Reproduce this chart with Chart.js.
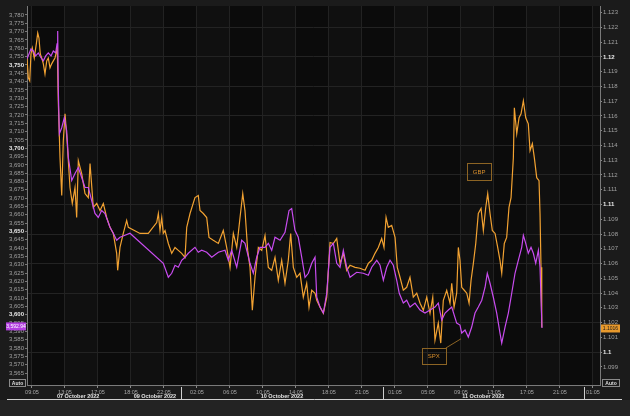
<!DOCTYPE html>
<html>
<head>
<meta charset="utf-8">
<script src="https://cdn.jsdelivr.net/npm/chart.js@4.4.1/dist/chart.umd.min.js"></script>
<style>
  html, body { margin: 0; padding: 0; background: #1b1b1b; }
  canvas { display: block; }
</style>
</head>
<body>
<canvas id="chart" width="630" height="416"></canvas>
<script>
// x = trading hours from the left edge (weekend gap squeezed out, like the terminal chart)
const gbpHours = [
  0, 0.16, 0.33, 0.48, 0.64, 0.88, 1.13, 1.30, 1.45, 1.61, 1.78, 1.98, 2.18, 2.39, 2.58, 2.79, 2.99, 3.19, 3.39, 3.60, 3.67,
  3.79, 4.0, 4.21, 4.40, 4.61, 4.88, 5.21, 5.49, 5.82, 6.02,
  6.22, 6.63, 7.03, 7.43, 7.64, 8.04, 8.45, 8.85, 9.25, 9.66,
  10.06, 10.46, 10.87, 10.99, 11.27, 11.67, 12.08, 12.28, 13.70, 14.70,
  15.72, 15.92, 16.12, 16.33, 16.52, 16.73, 17.13, 17.54, 17.94, 18.34,
  18.75, 19.15, 19.36, 19.76, 20.36, 20.76, 20.97, 21.37, 21.78, 22.06,
  22.58, 23.19, 23.79, 24.20, 24.61, 25.01, 25.42, 25.82, 26.15, 26.42,
  26.75, 27.03, 27.31, 27.64, 28.04, 28.45, 28.85, 29.25, 29.66, 30.06,
  30.46, 30.87, 31.27, 31.67, 31.96, 32.28, 32.69, 33.09, 33.49, 33.90,
  34.18, 34.51, 34.91, 35.12, 35.52, 35.92, 36.33, 36.73, 37.13, 37.54,
  37.94, 38.34, 38.75, 39.15, 39.76, 40.36, 40.97, 41.37, 41.78, 42.18,
  42.58, 42.99, 43.27, 43.52, 43.79, 44.20, 44.61, 44.88, 45.21, 45.61,
  46.02, 46.42, 46.82, 47.24, 47.64, 48.04, 48.45, 48.85, 49.18, 49.45,
  49.85, 50.15, 50.46, 50.87, 51.27, 51.48, 51.76, 52.08, 52.28, 52.48,
  52.69, 53.0, 53.30, 53.58, 53.82, 54.10, 54.39, 54.70, 55.03, 55.31,
  55.60, 55.84, 56.12, 56.40, 56.73, 57.05, 57.33, 57.54, 57.85, 58.14,
  58.42, 58.67, 58.95, 59.07, 59.36, 59.64, 59.88, 60.16, 60.45, 60.76,
  60.97, 61.25, 61.49, 61.78, 62.06, 62.18, 62.30, 62.39
];
const gbpValues = [
  1.11993, 1.11858, 1.11838, 1.12020, 1.12061, 1.11993, 1.12088, 1.12162, 1.12128, 1.12020, 1.11993, 1.11953, 1.11885, 1.11973, 1.11993, 1.11926, 1.11953, 1.11973, 1.11993, 1.12041, 1.12061,
  1.11703, 1.11318, 1.11061, 1.11432, 1.11615, 1.11412, 1.11115, 1.11007, 1.11115, 1.10912,
  1.11297, 1.11209, 1.11074, 1.11047, 1.11277, 1.10980, 1.11007, 1.10959, 1.11007, 1.10912,
  1.10845, 1.10804, 1.10669, 1.10554, 1.10709, 1.10804, 1.10892, 1.10845, 1.10804, 1.10804,
  1.10878, 1.10939, 1.10824, 1.10912, 1.10804, 1.10824, 1.10736, 1.10669, 1.10709, 1.10689,
  1.10669, 1.10642, 1.10845, 1.10939, 1.11047, 1.11061, 1.10959, 1.10939, 1.10912, 1.10777,
  1.10757, 1.10736, 1.10824, 1.10709, 1.10574, 1.10804, 1.10709, 1.10912, 1.11074, 1.10959,
  1.10689, 1.10574, 1.10284, 1.10507, 1.10709, 1.10689, 1.10790, 1.10574, 1.10554, 1.10642,
  1.10486, 1.10622, 1.10466, 1.10622, 1.10804, 1.10574, 1.10507, 1.10534, 1.10372, 1.10466,
  1.10304, 1.10419, 1.10399, 1.10351, 1.10304, 1.10263, 1.10372, 1.10743, 1.10736, 1.10770,
  1.10601, 1.10669, 1.10554, 1.10588, 1.10574, 1.10568, 1.10554, 1.10601, 1.10622, 1.10669,
  1.10709, 1.10770, 1.10709, 1.10912, 1.10845, 1.10858, 1.10777, 1.10574, 1.10507, 1.10419,
  1.10439, 1.10507, 1.10372, 1.10399, 1.10331, 1.10284, 1.10372, 1.10263, 1.10372, 1.10081,
  1.10196, 1.10061, 1.10351, 1.10419, 1.10331, 1.10466, 1.10304, 1.10399, 1.10709, 1.10622,
  1.10439, 1.10419, 1.10399, 1.10331, 1.10486, 1.10601, 1.10736, 1.10939, 1.10973, 1.10824,
  1.10980, 1.11074, 1.10939, 1.10824, 1.10804, 1.10709, 1.10622, 1.10534, 1.10736, 1.10777,
  1.10980, 1.11047, 1.11318, 1.11655, 1.11480, 1.11588, 1.11615, 1.11703, 1.11588, 1.11547,
  1.11365, 1.11412, 1.11318, 1.11182, 1.11162, 1.10939, 1.10574, 1.10169
];

const spxHours = [
  0, 0.24, 0.48, 0.76, 1.05, 1.37, 1.70, 1.98, 2.27, 2.58, 2.91, 3.19, 3.48, 3.64, 3.72,
  3.79, 3.92, 4.21, 4.52, 4.81, 5.01, 5.42, 5.82, 6.22, 6.63,
  7.03, 7.43, 7.84, 8.24, 8.64, 9.05, 9.45, 10.06, 10.46, 10.87,
  11.27, 11.88, 12.48, 16.52, 17.13, 17.54, 17.94, 18.34, 18.75, 19.15,
  19.55, 20.36, 20.76, 21.17, 21.78, 22.39, 23.19, 24.0, 24.40, 24.81,
  25.42, 26.02, 26.42, 27.03, 27.43, 27.84, 28.24, 28.85, 29.25, 29.66,
  30.06, 30.67, 31.27, 31.76, 32.08, 32.48, 32.88, 33.30, 33.70, 34.10,
  34.51, 34.91, 35.12, 35.52, 35.92, 36.33, 36.73, 37.13, 37.54, 37.94,
  38.34, 38.75, 39.15, 39.96, 40.76, 41.37, 41.78, 42.39, 42.79, 43.19,
  43.60, 44.0, 44.40, 44.81, 45.12, 45.61, 46.02, 46.42, 47.03, 47.64,
  48.24, 48.85, 49.45, 49.85, 50.27, 50.67, 51.07, 51.48, 52.08, 52.48,
  52.69, 53.09, 53.49, 53.90, 54.30, 54.70, 55.12, 55.52, 55.79, 56.12,
  56.52, 56.93, 57.33, 57.54, 57.94, 58.34, 58.75, 59.15, 59.55, 59.96,
  60.16, 60.45, 60.76, 61.09, 61.37, 61.66, 61.98, 62.18, 62.42
];
const spxValues = [
  3753.7, 3756.6, 3759.6, 3758.4, 3755.4, 3757.2, 3754.3, 3752.5, 3755.4, 3757.2, 3755.4, 3758.4, 3757.2, 3762.6, 3770.4,
  3736.3, 3708.7, 3712.3, 3718.3, 3710.5, 3694.4, 3680.6, 3684.8, 3688.4, 3682.4,
  3676.4, 3676.4, 3668.6, 3660.8, 3658.4, 3662.6, 3660.8, 3652.5, 3648.9, 3644.7,
  3646.5, 3647.7, 3648.9, 3630.9, 3622.5, 3624.9, 3629.7, 3628.5, 3632.7, 3634.5,
  3636.9, 3640.5, 3637.5, 3638.7, 3637.5, 3634.5, 3637.5, 3638.7, 3632.7, 3638.7,
  3628.5, 3644.7, 3642.9, 3630.9, 3624.9, 3634.5, 3640.5, 3640.5, 3642.9, 3638.7,
  3646.5, 3644.7, 3649.5, 3662.6, 3663.8, 3650.7, 3646.5, 3634.5, 3622.5, 3624.9,
  3630.9, 3634.5, 3610.5, 3604.6, 3601.0, 3612.9, 3640.5, 3642.9, 3630.9, 3628.5,
  3638.7, 3628.5, 3622.5, 3625.5, 3624.9, 3623.7, 3628.5, 3632.7, 3629.7, 3620.7,
  3628.5, 3632.7, 3629.7, 3620.7, 3612.9, 3607.0, 3608.7, 3604.6, 3607.0, 3602.8,
  3601.0, 3602.8, 3604.6, 3607.0, 3596.8, 3601.0, 3602.8, 3604.6, 3595.0, 3593.8,
  3589.0, 3590.8, 3586.6, 3592.6, 3601.0, 3604.6, 3608.7, 3616.5, 3624.9, 3618.9,
  3610.5, 3601.0, 3589.0, 3583.0, 3592.6, 3601.0, 3612.9, 3624.9, 3632.7, 3640.5,
  3647.7, 3642.9, 3636.9, 3640.5, 3636.9, 3630.9, 3638.7, 3628.5, 3592.0
];

const xTickHours = [0.6, 4.6, 8.6, 12.6, 16.6, 20.6, 24.6, 28.6, 32.6, 36.6, 40.6, 44.6, 48.6, 52.6, 56.6, 60.6, 64.6, 68.6];
const xTickLabels = ['09:05', '13:05', '17:05', '18:05', '22:05', '02:05', '06:05', '10:05', '14:05',
                     '18:05', '21:05', '01:05', '05:05', '09:05', '13:05', '17:05', '21:05', '01:05'];
const dayLabels = ['07 October 2022', '09 October 2022', '10 October 2022', '11 October 2022'];
const dayLabelHours = [6.2, 15.5, 30.9, 55.3];
const dayBreakHours = [18.67, 43.15, 67.5];

const spxTicks = [3565, 3570, 3575, 3580, 3585, 3590, 3595, 3600, 3605, 3610, 3615, 3620, 3625, 3630, 3635,
  3640, 3645, 3650, 3655, 3660, 3665, 3670, 3675, 3680, 3685, 3690, 3695, 3700, 3705, 3710, 3715,
  3720, 3725, 3730, 3735, 3740, 3745, 3750, 3755, 3760, 3765, 3770, 3775, 3780];
const gbpTicks = [1.099, 1.100, 1.101, 1.102, 1.103, 1.104, 1.105, 1.106, 1.107, 1.108, 1.109, 1.110,
  1.111, 1.112, 1.113, 1.114, 1.115, 1.116, 1.117, 1.118, 1.119, 1.120, 1.121, 1.122, 1.123];

const spxLast = '3,592.94';
const gbpLast = '1.1016';

const ORANGE = '#f2a232';
const MAGENTA = '#c94cf0';
const FONT = '"Liberation Sans", Arial, sans-serif';

Chart.defaults.font.family = FONT;

function tagBox(ctx, x, y, w, h, fill, text, textColor) {
  ctx.fillStyle = fill;
  ctx.fillRect(x, y - h / 2, w, h);
  ctx.fillStyle = textColor;
  ctx.font = '5px ' + FONT;
  ctx.textAlign = 'center';
  ctx.textBaseline = 'middle';
  ctx.fillText(text, x + w / 2, y + 0.5);
}

const terminalChrome = {
  id: 'terminalChrome',
  beforeDraw(chart) {
    const { ctx, chartArea: a } = chart;
    const x = chart.scales.x;
    ctx.save();
    ctx.fillStyle = '#1b1b1b';
    ctx.fillRect(0, 0, chart.width, chart.height);
    ctx.fillStyle = '#0b0b0b';
    ctx.fillRect(a.left, a.top, a.right - a.left, a.bottom - a.top);
    // faint alternating columns between time ticks
    const edges = [x.min].concat(xTickHours, [x.max]);
    ctx.fillStyle = '#101010';
    for (let i = 0; i < edges.length - 1; i += 2) {
      const x0 = x.getPixelForValue(edges[i]);
      const x1 = x.getPixelForValue(edges[i + 1]);
      ctx.fillRect(x0, a.top, x1 - x0, a.bottom - a.top);
    }
    ctx.fillStyle = '#232323';
    ctx.fillRect(0, 400, chart.width, chart.height - 400);
    ctx.restore();
  },
  afterDraw(chart) {
    const { ctx } = chart;
    const x = chart.scales.x, y = chart.scales.y, y1 = chart.scales.y1;
    ctx.save();

    // date row
    ctx.strokeStyle = '#cfcfcf';
    ctx.lineWidth = 1;
    ctx.beginPath();
    ctx.moveTo(7, 399.5);
    ctx.lineTo(622, 399.5);
    dayBreakHours.forEach(h => {
      const p = Math.round(x.getPixelForValue(h)) + 0.5;
      ctx.moveTo(p, 387);
      ctx.lineTo(p, 399);
    });
    ctx.stroke();
    ctx.fillStyle = '#e2e2e2';
    ctx.font = 'bold 5.5px ' + FONT;
    ctx.textAlign = 'center';
    ctx.textBaseline = 'middle';
    dayLabels.forEach((t, i) => ctx.fillText(t, x.getPixelForValue(dayLabelHours[i]), 396.5));

    // series call-outs
    const gx = x.getPixelForValue(54.8), gy = y1.getPixelForValue(1.11223);
    const sx = x.getPixelForValue(49.3), sy = y1.getPixelForValue(1.09973);
    ctx.strokeStyle = '#8c6424';
    ctx.strokeRect(Math.round(gx - 12) + 0.5, Math.round(gy - 8.5) + 0.5, 24, 17);
    ctx.strokeRect(Math.round(sx - 12) + 0.5, Math.round(sy - 8) + 0.5, 24, 16);
    ctx.beginPath();
    ctx.moveTo(sx + 12, sy - 8);
    ctx.lineTo(x.getPixelForValue(52.6), y1.getPixelForValue(1.1009));
    ctx.stroke();
    ctx.fillStyle = '#d98f2c';
    ctx.font = '6px ' + FONT;
    ctx.fillText('GBP', gx, gy + 0.5);
    ctx.fillText('SPX', sx, sy + 0.5);

    // last price tags
    tagBox(ctx, 6, y.getPixelForValue(3593), 20, 8, '#b33fe0', spxLast, '#ffffff');
    tagBox(ctx, 601, y1.getPixelForValue(1.1016), 19, 8, '#e8992c', gbpLast, '#1a1a1a');

    // "Auto" buttons
    ctx.strokeStyle = '#8a8a8a';
    ctx.strokeRect(9.5, 379.5, 16, 7);
    ctx.strokeRect(602.5, 379.5, 17, 7);
    ctx.fillStyle = '#dddddd';
    ctx.font = 'bold 5px ' + FONT;
    ctx.fillText('Auto', 17.5, 383.5);
    ctx.fillText('Auto', 611, 383.5);
    ctx.restore();
  }
};

const tickVal = c => (c && c.tick ? c.tick.value : NaN);
const isRoundSpx = c => tickVal(c) % 50 === 0;
const gbpMilli = c => Math.round(tickVal(c) * 1000);
const tickFont = strong => ({ size: 6, weight: strong ? 'bold' : 'normal', family: FONT });

new Chart(document.getElementById('chart').getContext('2d'), {
  type: 'line',
  data: {
    datasets: [{
      label: 'SPX',
      data: spxHours.map((h, i) => ({ x: h, y: spxValues[i] })),
      yAxisID: 'y',
      borderColor: MAGENTA,
      borderWidth: 1.2,
      pointRadius: 0,
      order: 0
    }, {
      label: 'GBP',
      data: gbpHours.map((h, i) => ({ x: h, y: gbpValues[i] })),
      yAxisID: 'y1',
      borderColor: ORANGE,
      borderWidth: 1.2,
      pointRadius: 0,
      order: 1
    }]
  },
  options: {
    responsive: false,
    animation: false,
    devicePixelRatio: 1,
    layout: { padding: { top: 6, bottom: 16, left: 0, right: 0 } },
    plugins: { legend: { display: false }, tooltip: { enabled: false } },
    scales: {
      x: {
        type: 'linear',
        min: 0,
        max: 69.45,
        afterBuildTicks: s => { s.ticks = xTickHours.map(v => ({ value: v })); },
        afterFit: s => { s.height = 15; },
        border: { color: '#7a7a7a' },
        grid: { color: '#222222', tickColor: '#8a8a8a', tickLength: 3 },
        ticks: {
          autoSkip: false, maxRotation: 0, padding: 1,
          color: '#a8a8a8', font: { size: 5.5 },
          callback: (v, i) => xTickLabels[i]
        }
      },
      y: {
        position: 'left',
        min: 3557.8,
        max: 3785.4,
        afterBuildTicks: s => { s.ticks = spxTicks.map(v => ({ value: v })); },
        afterFit: s => { s.width = 27; },
        border: { color: '#7a7a7a' },
        grid: { drawOnChartArea: false, tickColor: '#777777', tickLength: 2 },
        ticks: {
          autoSkip: false, padding: 1,
          color: c => isRoundSpx(c) ? '#e8e8e8' : '#a0a0a0',
          font: c => tickFont(isRoundSpx(c)),
          callback: v => v.toLocaleString('en-US')
        }
      },
      y1: {
        position: 'right',
        min: 1.09777,
        max: 1.12345,
        afterBuildTicks: s => { s.ticks = gbpTicks.map(v => ({ value: v })); },
        afterFit: s => { s.width = 30; },
        border: { color: '#7a7a7a' },
        grid: {
          color: c => gbpMilli(c) % 2 === 0 ? '#232323' : 'rgba(0,0,0,0)',
          tickColor: '#8a8a8a', tickLength: 2
        },
        ticks: {
          autoSkip: false, padding: 1,
          color: c => gbpMilli(c) % 10 === 0 ? '#e8e8e8' : '#a0a0a0',
          font: c => tickFont(gbpMilli(c) % 10 === 0),
          callback: v => String(Number(v.toFixed(3)))
        }
      }
    }
  },
  plugins: [terminalChrome]
});
</script>
</body>
</html>
